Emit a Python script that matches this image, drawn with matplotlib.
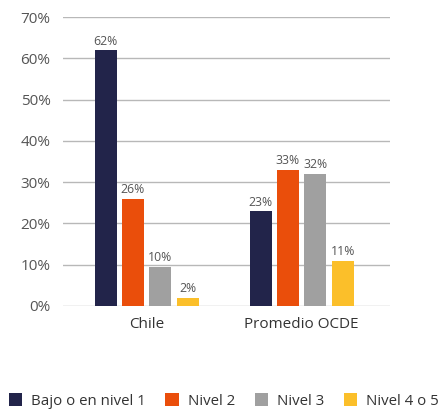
import matplotlib
matplotlib.use("Agg")
import matplotlib.pyplot as plt
import numpy as np

plt.rcParams['font.family'] = ['Open Sans', 'DejaVu Sans']

categories = ["Chile", "Promedio OCDE"]
series_names = ["Bajo o en nivel 1", "Nivel 2", "Nivel 3", "Nivel 4 o 5"]
values = {
    "Bajo o en nivel 1": [0.62, 0.23],
    "Nivel 2": [0.26, 0.33],
    "Nivel 3": [0.095, 0.32],
    "Nivel 4 o 5": [0.02, 0.11],
}
labels = {
    "Bajo o en nivel 1": ["62%", "23%"],
    "Nivel 2": ["26%", "33%"],
    "Nivel 3": ["10%", "32%"],
    "Nivel 4 o 5": ["2%", "11%"],
}
colors = ["#22244a", "#ea4e0b", "#a0a0a0", "#fbbf2a"]
yticks = [0, 0.1, 0.2, 0.3, 0.4, 0.5, 0.6, 0.7]
ytick_labels = ["0%", "10%", "20%", "30%", "40%", "50%", "60%", "70%"]

fig = plt.figure(figsize=(4.48, 4.11), dpi=100)
ax = fig.add_axes([0.1406, 0.2555, 0.7299, 0.7031])

x = np.arange(len(categories))
width = 0.142
step = 0.177
text_color = "#555555"
for i, name in enumerate(series_names):
    pos = x + (i - 1.5) * step
    bars = ax.bar(pos, values[name], width=width, color=colors[i], label=name, zorder=3)
    for b, lab in zip(bars, labels[name]):
        ax.text(b.get_x() + b.get_width() / 2, b.get_height() + 0.006, lab,
                ha="center", va="bottom", fontsize=8.8, color=text_color)

ax.set_ylim(0, 0.7)
ax.set_xlim(-0.54, 1.57)
ax.set_yticks(yticks)
ax.set_yticklabels(ytick_labels, fontsize=11, color=text_color)
ax.set_xticks(x)
ax.set_xticklabels(categories, fontsize=11, color="#333333")
ax.tick_params(axis="x", length=0, pad=8)
ax.tick_params(axis="y", length=0, pad=9)
ax.yaxis.grid(True, color="#b8b8b8", linewidth=1, zorder=0)
for s in ax.spines.values():
    s.set_visible(False)

fig.legend(loc="center", bbox_to_anchor=(0.5, 0.024), ncol=4, frameon=False,
           fontsize=10.8, handlelength=0.9, handleheight=0.9, columnspacing=1.3,
           handletextpad=0.6, labelcolor="#333333", borderaxespad=0)

fig.savefig("out.png", dpi=100)
